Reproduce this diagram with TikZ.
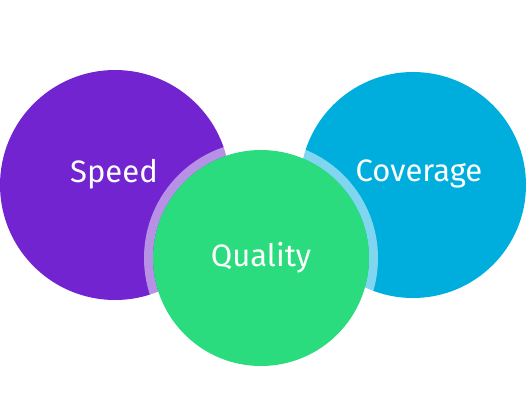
\documentclass[tikz,border=0pt]{standalone}
\usepackage{fontspec}
\setmainfont{Fira Sans}
\usetikzlibrary{positioning}

\definecolor{speedpurple}{HTML}{7124D0}
\definecolor{covercyan}{HTML}{00AEDE}
\definecolor{qualgreen}{HTML}{2ADC7E}

\begin{document}
\begin{tikzpicture}[x=1pt, y=-1pt,
    blob/.style={circle, inner sep=0pt, text=white,
                 font=\fontsize{31}{36}\selectfont},
    lbl/.style={text=white, inner sep=0pt,
                font=\fontsize{31}{36}\selectfont},
    halo/.style={draw=white, draw opacity=0.5, line width=9pt}]
    \useasboundingbox (0,0) rectangle (528,408);

    % the two back circles
    \node[blob, fill=speedpurple, minimum size=230pt] (speed) at (115,185) {};
    \node[blob, fill=covercyan, minimum size=226pt] (coverage) at (413,185) {};
    \node[lbl] (speedlbl) at (114,174) {Speed};
    \node[lbl] (coverlbl) at (419,174) {Coverage};

    % front circle with its light ring
    \draw[halo] (261,258) circle (112.5);
    \node[blob, fill=qualgreen, minimum size=216pt] (quality) at (261,258) {Quality};
\end{tikzpicture}
\end{document}
